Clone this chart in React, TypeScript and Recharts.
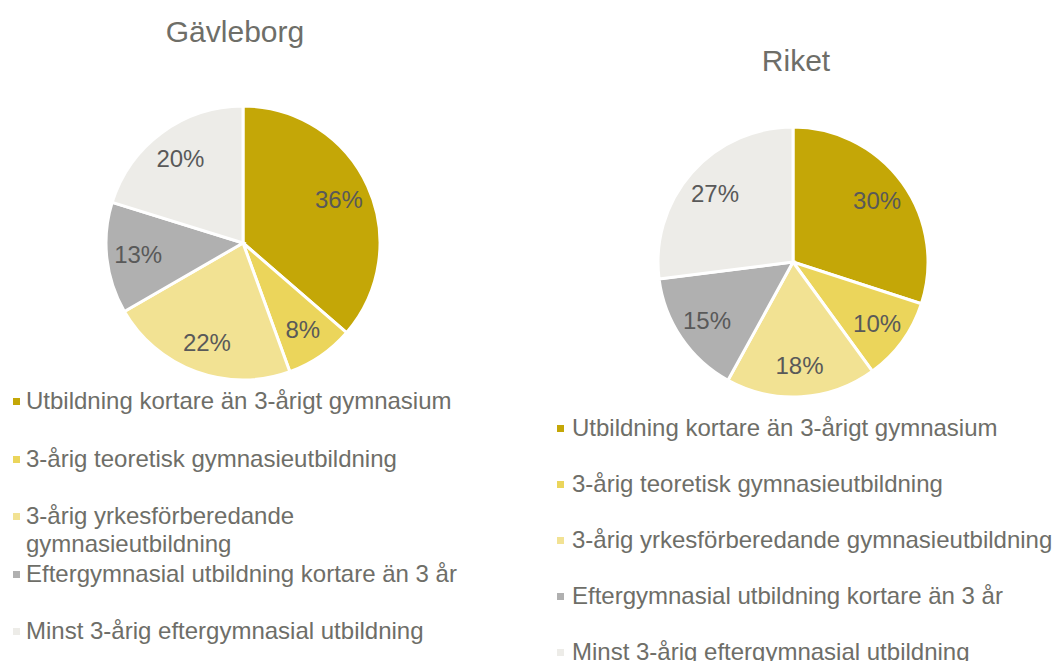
import React from 'react';
import { PieChart, Pie, Cell, Legend } from 'recharts';

const categories = [
  'Utbildning kortare än 3-årigt gymnasium',
  '3-årig teoretisk gymnasieutbildning',
  '3-årig yrkesförberedande gymnasieutbildning',
  'Eftergymnasial utbildning kortare än 3 år',
  'Minst 3-årig eftergymnasial utbildning',
];
const gavleborgValues = [36, 8, 22, 13, 20];
const riketValues = [30, 10, 18, 15, 27];
const colors = ['#C4A707', '#EBD55B', '#F2E293', '#B0B0B0', '#EDECE8'];
const titles = ['Gävleborg', 'Riket'];

const FONT = '"Liberation Sans", Arial, sans-serif';
const TEXT_COLOR = '#6E6E68';
const LABEL_COLOR = '#595959';
const RAD = Math.PI / 180;

const buildData = (values: number[]) =>
  categories.map((name, i) => ({ name, value: values[i] }));

const renderLabel = (p: any) => {
  const r = p.outerRadius * 0.77;
  const x = p.cx + r * Math.cos(-p.midAngle * RAD);
  const y = p.cy + r * Math.sin(-p.midAngle * RAD);
  return (
    <text
      x={x}
      y={y}
      textAnchor="middle"
      dominantBaseline="central"
      fill={LABEL_COLOR}
      fontSize={24}
      fontFamily={FONT}
    >
      {`${p.value}%`}
    </text>
  );
};

const makeLegend = (pitch: number, gap: number, textWidth: number) => () => (
  <div style={{ fontFamily: FONT }}>
    {categories.map((c, i) => (
      <div key={c} style={{ display: 'flex', alignItems: 'flex-start', height: pitch }}>
        <span
          style={{
            display: 'inline-block',
            width: 7,
            height: 7,
            marginTop: 11,
            marginRight: gap,
            background: colors[i],
            flex: '0 0 auto',
          }}
        />
        <span
          style={{
            fontSize: 24,
            lineHeight: '28px',
            color: TEXT_COLOR,
            width: textWidth,
            display: 'inline-block',
          }}
        >
          {c}
        </span>
      </div>
    ))}
  </div>
);

interface PanelProps {
  values: number[];
  title: string;
  left: number;
  cx: number;
  cy: number;
  r: number;
  titleX: number;
  titleTop: number;
  legendLeft: number;
  legendTop: number;
  pitch: number;
  gap: number;
  textWidth: number;
}

const Panel = (p: PanelProps) => (
  <div style={{ position: 'absolute', left: p.left, top: 0, width: 528, height: 661 }}>
    <PieChart width={528} height={661} margin={{ top: 0, right: 0, bottom: 0, left: 0 }}>
      <Pie
        data={buildData(p.values)}
        dataKey="value"
        nameKey="name"
        cx={p.cx}
        cy={p.cy}
        outerRadius={p.r}
        startAngle={90}
        endAngle={-270}
        stroke="#FFFFFF"
        strokeWidth={3}
        label={renderLabel}
        labelLine={false}
        isAnimationActive={false}
      >
        {p.values.map((_, i) => (
          <Cell key={i} fill={colors[i]} />
        ))}
      </Pie>
      <Legend
        content={makeLegend(p.pitch, p.gap, p.textWidth)}
        wrapperStyle={{ left: p.legendLeft, top: p.legendTop, width: 7 + p.gap + p.textWidth, bottom: 'auto' }}
      />
    </PieChart>
    <div
      style={{
        position: 'absolute',
        left: p.titleX - 150,
        top: p.titleTop,
        width: 300,
        textAlign: 'center',
        fontFamily: FONT,
        fontSize: 30,
        lineHeight: '30px',
        color: TEXT_COLOR,
      }}
    >
      {p.title}
    </div>
  </div>
);

export default function App() {
  return (
    <div
      style={{
        position: 'absolute',
        left: 0,
        top: 0,
        width: 1056,
        height: 661,
        background: '#FFFFFF',
        overflow: 'hidden',
      }}
    >
      <Panel
        values={gavleborgValues}
        title={titles[0]}
        left={0}
        cx={243}
        cy={243}
        r={137}
        titleX={235}
        titleTop={17}
        legendLeft={13}
        legendTop={387}
        pitch={57.5}
        gap={6}
        textWidth={440}
      />
      <Panel
        values={riketValues}
        title={titles[1]}
        left={528}
        cx={265}
        cy={262}
        r={135}
        titleX={268}
        titleTop={46}
        legendLeft={29}
        legendTop={414}
        pitch={56}
        gap={8}
        textWidth={500}
      />
    </div>
  );
}
